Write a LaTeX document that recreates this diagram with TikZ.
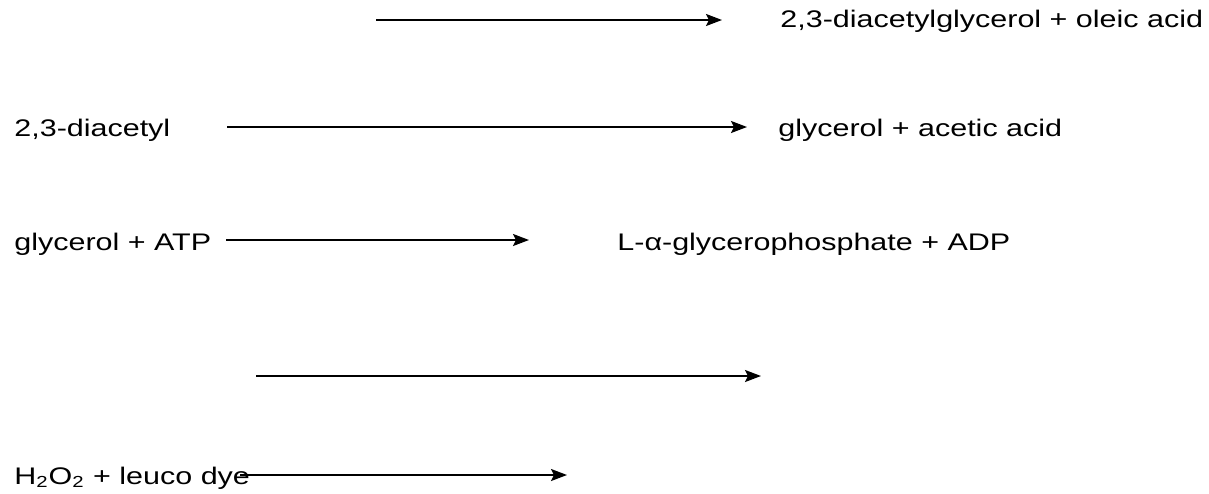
\documentclass[tikz,border=0pt]{standalone}
\usepackage{fontspec}
\setmainfont{Liberation Sans}[FakeStretch=1.27]
\usetikzlibrary{arrows.meta}
\tikzset{
  species/.style={anchor=base west, inner sep=0pt, font=\fontsize{12pt}{14pt}\selectfont},
  react/.style={line width=1pt, -{Stealth[length=8pt, width=6pt, inset=1.5pt]}}
}
\begin{document}
\begin{tikzpicture}[x=0.5pt, y=-0.5pt]
    \useasboundingbox (0,0) rectangle (1209,493);
    % first row
    \coordinate (A1) at (376,20); \coordinate (B1) at (722,20);
    \node[species] (P1) at (780,27) {2,3-diacetylglycerol + oleic acid};
    \draw[react] (A1) -- (B1);
    % second row
    \node[species] (S2) at (14,136) {2,3-diacetyl};
    \coordinate (A2) at (227,127); \coordinate (B2) at (747,127);
    \node[species] (P2) at (778,136) {glycerol + acetic acid};
    \draw[react] (A2) -- (B2);
    % third row
    \node[species] (S3) at (14,250) {glycerol + ATP};
    \coordinate (A3) at (226,240); \coordinate (B3) at (529,240);
    \node[species] (P3) at (617,250) {L-α-glycerophosphate + ADP};
    \draw[react] (A3) -- (B3);
    % fourth row
    \coordinate (A4) at (256,376); \coordinate (B4) at (761,376);
    \draw[react] (A4) -- (B4);
    % fifth row
    \node[species] (S5) at (14,484) {H\textsubscript{2}O\textsubscript{2} + leuco dye};
    \coordinate (A5) at (240,475); \coordinate (B5) at (567,475);
    \draw[react] (A5) -- (B5);
  \end{tikzpicture}
\end{document}
